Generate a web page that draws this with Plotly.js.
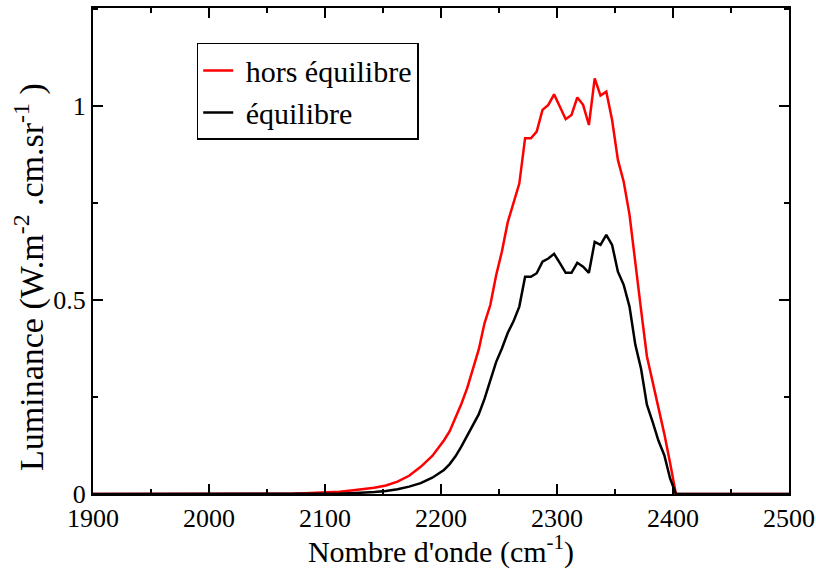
<!DOCTYPE html>
<html>
<head>
<meta charset="utf-8">
<script src="https://cdn.plot.ly/plotly-3.0.1.min.js"></script>
<style>html,body{margin:0;padding:0;background:#fff}#chart{width:816px;height:569px}</style>
</head>
<body>
<div id="chart"></div>
<script>
const wavenumber = [1900, 2052.5, 2062.5, 2072.5, 2082.5, 2092.5, 2102.5, 2112.5, 2122.5, 2132.5, 2142.5, 2152.5, 2162.5, 2172.5, 2182.5, 2192.5, 2202.5, 2207.5, 2212.5, 2217.5, 2222.5, 2227.5, 2232.5, 2237.5, 2242.5, 2247.5, 2252.5, 2257.5, 2262.5, 2267.5, 2272.5, 2277.5, 2282.5, 2287.5, 2292.5, 2297.5, 2302.5, 2307.5, 2312.5, 2317.5, 2322.5, 2327.5, 2332.5, 2337.5, 2342.5, 2347.5, 2352.5, 2357.5, 2362.5, 2367.5, 2372.5, 2377.5, 2382.5, 2387.5, 2392.5, 2397.5, 2402.5, 2500];
const horsEquilibre = [0, 0, 0.001, 0.001, 0.002, 0.003, 0.004, 0.006, 0.009, 0.012, 0.016, 0.022, 0.032, 0.047, 0.07, 0.098, 0.138, 0.162, 0.195, 0.232, 0.272, 0.322, 0.372, 0.44, 0.487, 0.563, 0.625, 0.70, 0.75, 0.80, 0.917, 0.917, 0.934, 0.99, 1.003, 1.03, 0.998, 0.966, 0.977, 1.022, 1.003, 0.951, 1.071, 1.027, 1.037, 0.964, 0.861, 0.805, 0.72, 0.59, 0.474, 0.355, 0.29, 0.225, 0.155, 0.08, 0, 0];
const equilibre = [0, 0, 0, 0, 0, 0, 0, 0.001, 0.002, 0.003, 0.005, 0.008, 0.012, 0.019, 0.028, 0.042, 0.062, 0.077, 0.097, 0.122, 0.15, 0.18, 0.205, 0.245, 0.29, 0.34, 0.375, 0.415, 0.445, 0.483, 0.56, 0.56, 0.569, 0.599, 0.607, 0.619, 0.595, 0.57, 0.57, 0.596, 0.586, 0.57, 0.65, 0.642, 0.668, 0.642, 0.573, 0.539, 0.483, 0.385, 0.322, 0.23, 0.185, 0.137, 0.1, 0.04, 0, 0];
const xTicks = [1900, 2000, 2100, 2200, 2300, 2400, 2500];
const yTickVals = [0, 0.5, 1];
const yTickText = ['0', '0.5', '1'];
const seriesNames = ['\u00a0hors équilibre', '\u00a0équilibre'];
const xTitle = "Nombre d'onde (cm<sup>-1</sup>)";
const yTitle = 'Luminance (W.m<sup>-2</sup> .cm.sr<sup>-1</sup> )';

const serif = "'Liberation Serif', 'Times New Roman', serif";
const traces = [
  {x: wavenumber, y: horsEquilibre, type: 'scatter', mode: 'lines', name: seriesNames[0],
   line: {color: '#ff0000', width: 2.5}},
  {x: wavenumber, y: equilibre, type: 'scatter', mode: 'lines', name: seriesNames[1],
   line: {color: '#000000', width: 2.5}}
];
const axisCommon = {
  showline: true, linecolor: '#000', linewidth: 2, mirror: 'ticks',
  ticks: 'inside', ticklen: 10, tickwidth: 1.5, tickcolor: '#000',
  showgrid: false, zeroline: false,
  tickfont: {family: serif, size: 26, color: '#000'}
};
const layout = {
  width: 816, height: 569,
  margin: {l: 93, r: 27, t: 8, b: 75},
  paper_bgcolor: '#fff', plot_bgcolor: '#fff',
  showlegend: true,
  legend: {x: 0.149, y: 0.928, xanchor: 'left', yanchor: 'top',
           bordercolor: '#000', borderwidth: 1.5, bgcolor: '#fff',
           font: {family: serif, size: 30, color: '#000'}, tracegroupgap: 0},
  xaxis: Object.assign({}, axisCommon, {
    range: [1900, 2500], tickvals: xTicks, ticktext: xTicks.map(String),
    minor: {ticks: 'inside', ticklen: 5, tickwidth: 1.5, tickcolor: '#000', dtick: 50, tick0: 1900},
    title: {text: xTitle, font: {family: serif, size: 30, color: '#000'}, standoff: 4}
  }),
  yaxis: Object.assign({}, axisCommon, {
    range: [0, 1.2526], tickvals: yTickVals, ticktext: yTickText,
    minor: {ticks: 'inside', ticklen: 5, tickwidth: 1.5, tickcolor: '#000', dtick: 0.25, tick0: 0}
  }),
  annotations: [{
    text: yTitle, textangle: -90, showarrow: false,
    xref: 'paper', yref: 'paper', x: -0.092, y: 0.4465, xanchor: 'center', yanchor: 'middle',
    font: {family: serif, size: 34, color: '#000'}
  }]
};
Plotly.newPlot('chart', traces, layout, {displayModeBar: false, staticPlot: true});
</script>
</body>
</html>
